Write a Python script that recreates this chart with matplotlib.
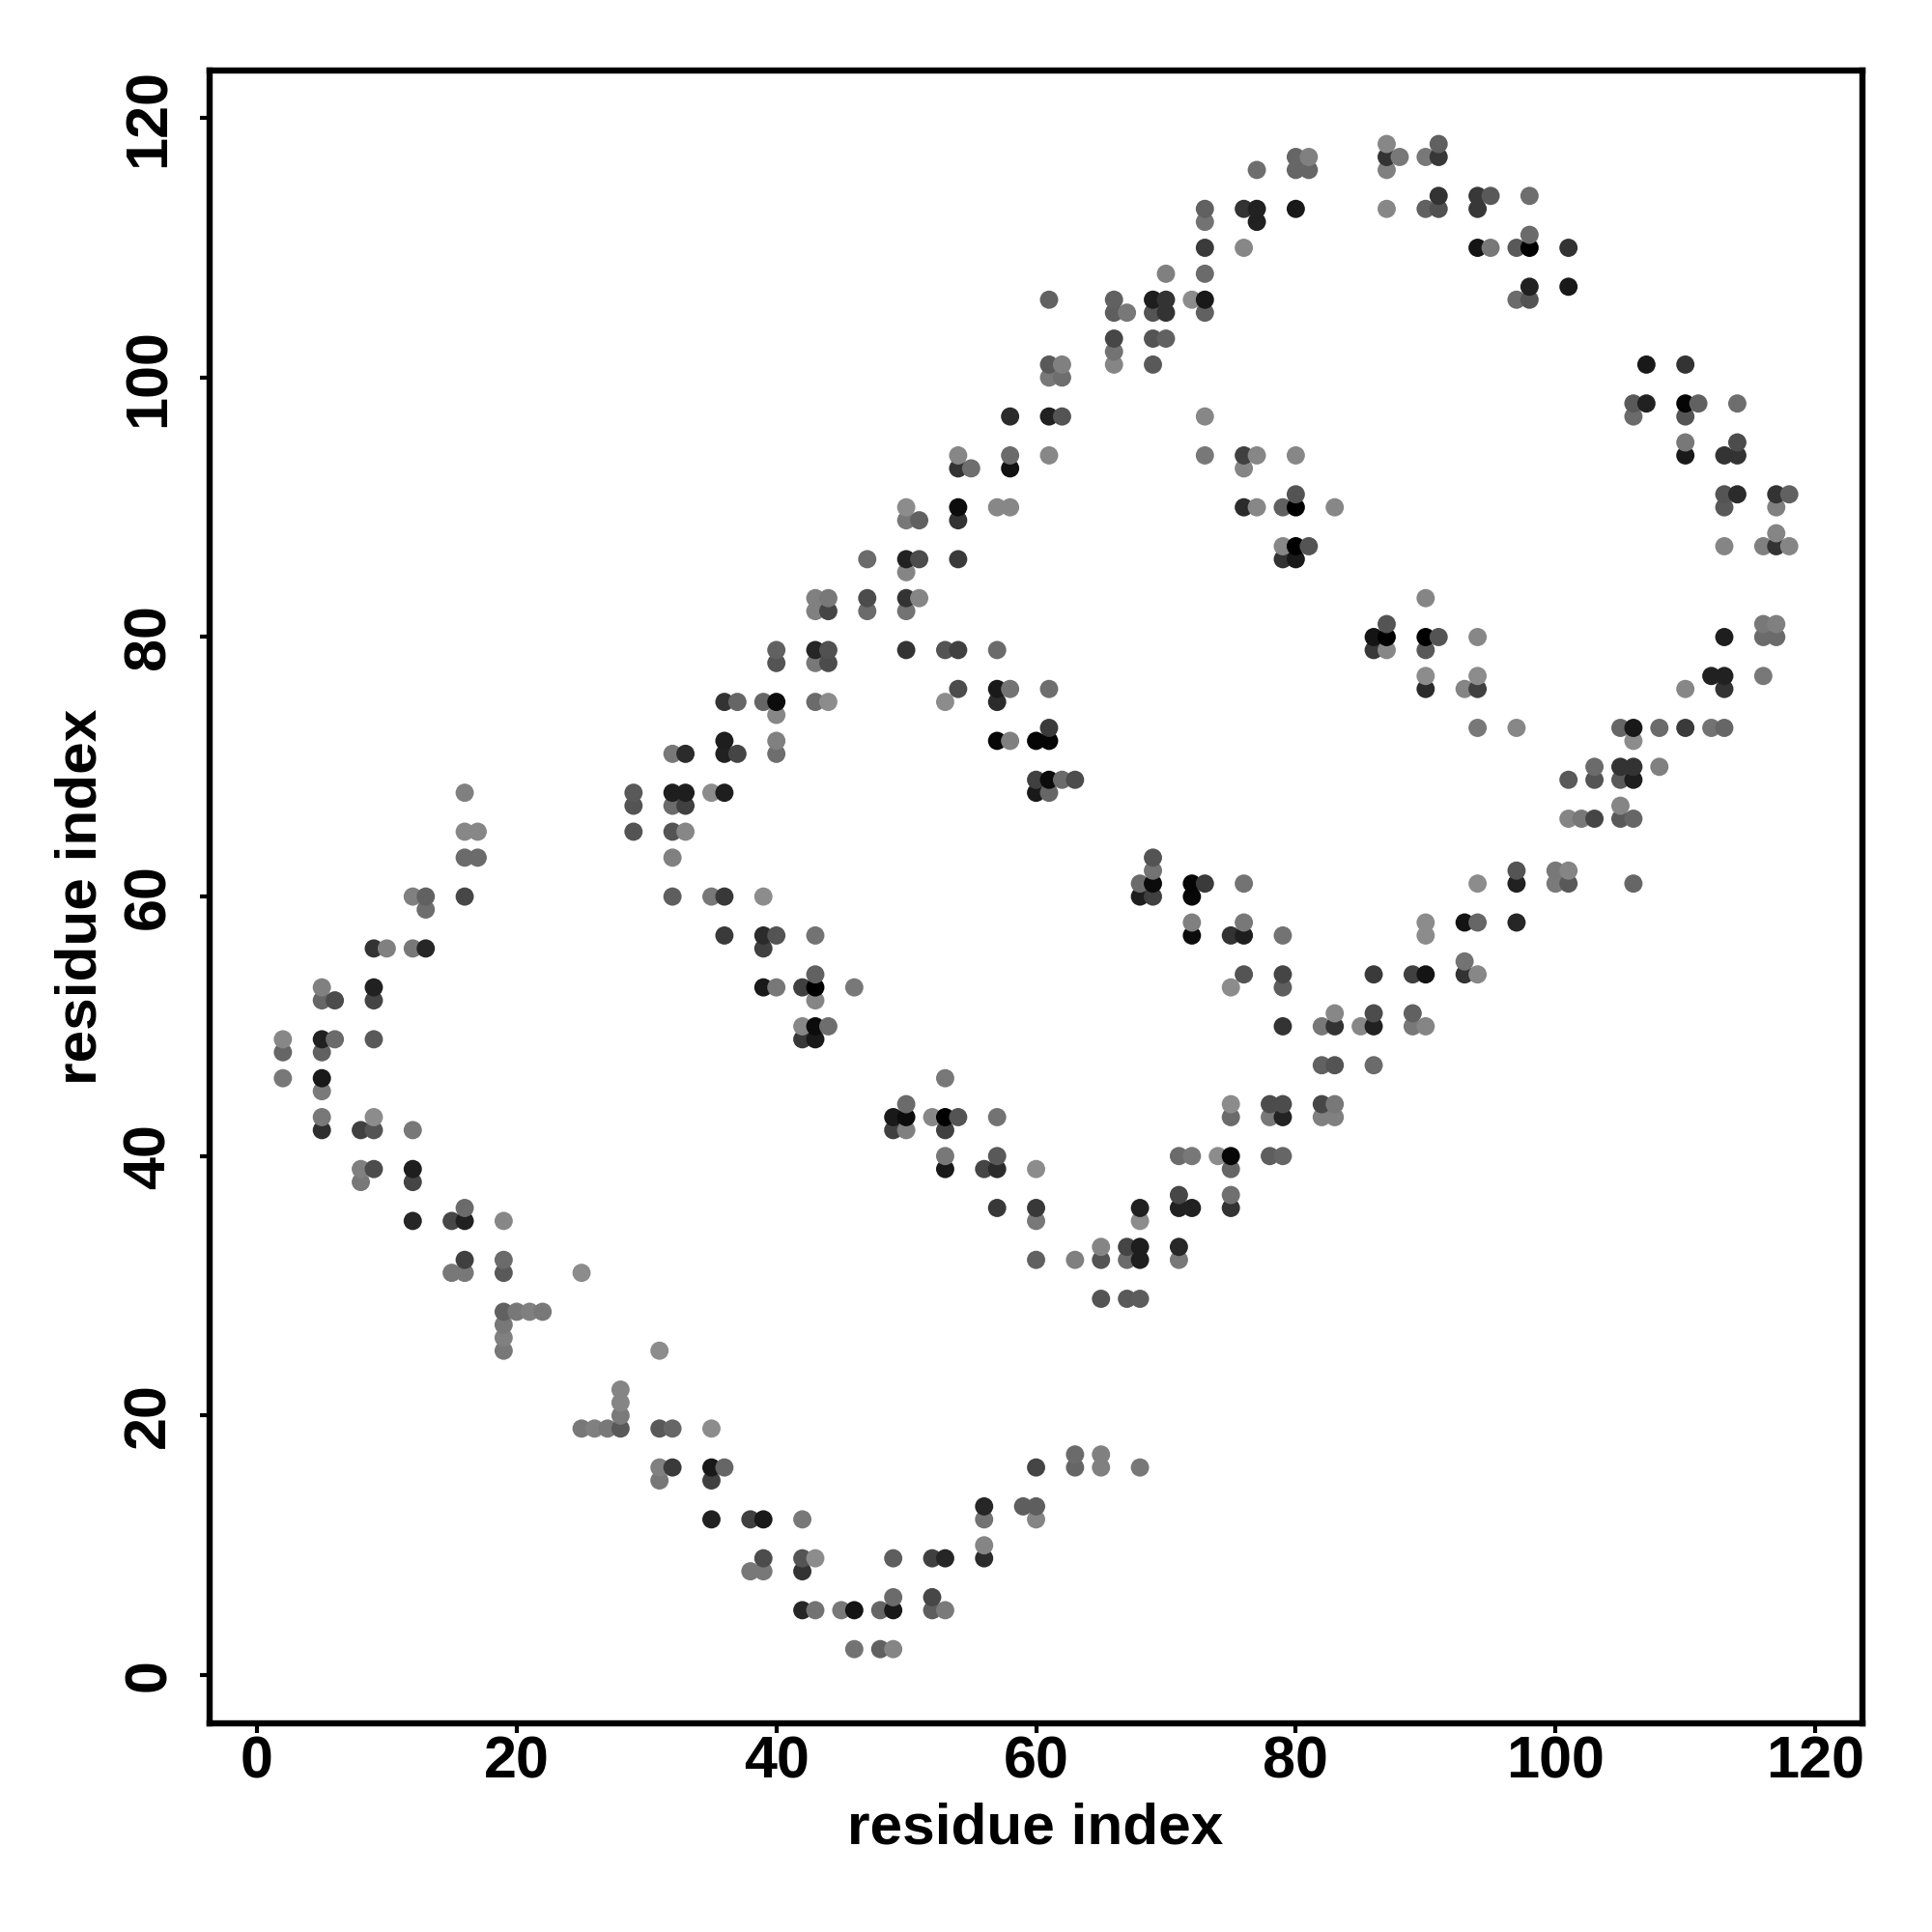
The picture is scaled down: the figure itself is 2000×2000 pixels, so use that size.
import numpy as np
import matplotlib
matplotlib.use('Agg')
import matplotlib.pyplot as plt

plt.rcParams['font.family'] = ['Liberation Sans', 'DejaVu Sans']
plt.rcParams['font.weight'] = 'bold'

# contacts, one row per y value
row_y = [118, 117, 116, 114, 113, 112, 111, 110, 108, 107,
         106, 105, 103, 102, 101, 100, 98, 97, 95, 94,
         93, 91, 90, 89, 88, 87, 86, 85, 83, 82,
         81, 80, 79, 78, 77, 76, 75, 74, 73, 72,
         71, 70, 69, 68, 67, 66, 65, 63, 62, 61,
         60, 59, 58, 57, 56, 55, 54, 53, 52, 51,
         50, 49, 48, 47, 46, 45, 44, 43, 42, 40,
         39, 38, 37, 36, 35, 33, 32, 31, 29, 28,
         27, 26, 25, 22, 21, 20, 19, 17, 16, 15,
         13, 12, 10, 9, 8, 6, 5, 2]

row_x = [
    [87, 91],
    [80, 81, 87, 88, 90, 91],
    [77, 80, 81, 87],
    [91, 94, 95, 98],
    [73, 76, 77, 80, 87, 90, 91, 94],
    [73, 77],
    [98],
    [73, 76, 94, 95, 97, 98, 101],
    [70, 73],
    [98, 101],
    [61, 66, 69, 70, 72, 73, 97, 98],
    [66, 67, 69, 70, 73],
    [66, 69, 70],
    [66],
    [61, 62, 66, 69, 107, 110],
    [61, 62],
    [106, 107, 110, 111, 114],
    [58, 61, 62, 73, 106, 110],
    [110, 114],
    [54, 58, 61, 73, 76, 77, 80, 110, 113, 114],
    [54, 55, 58, 76],
    [80, 113, 114, 117, 118],
    [50, 54, 57, 58, 76, 77, 79, 80, 83, 113, 117],
    [50, 51, 54],
    [117],
    [79, 80, 81, 113, 116, 117, 118],
    [47, 50, 51, 54, 79, 80],
    [50],
    [43, 44, 47, 50, 51, 90],
    [43, 44, 47, 50],
    [87, 116, 117],
    [86, 87, 90, 91, 94, 113, 116, 117],
    [40, 43, 44, 50, 53, 54, 57, 86, 87, 90],
    [40, 43, 44],
    [90, 94, 112, 113, 116],
    [54, 57, 58, 61, 90, 93, 94, 110, 113],
    [36, 37, 39, 40, 43, 44, 53, 57],
    [40],
    [61, 94, 97, 105, 106, 108, 110, 112, 113],
    [36, 40, 57, 58, 60, 61, 106],
    [32, 33, 36, 37, 40],
    [103, 105, 106, 108],
    [60, 61, 62, 63, 101, 103, 105, 106],
    [16, 29, 32, 33, 35, 36, 60, 61],
    [29, 32, 33, 105],
    [101, 102, 103, 105, 106],
    [16, 17, 29, 32, 33],
    [16, 17, 32, 69],
    [69, 97, 100, 101],
    [68, 69, 72, 73, 76, 94, 97, 100, 101, 106],
    [12, 13, 16, 32, 35, 36, 39, 68, 69, 72],
    [13],
    [72, 76, 90, 93, 94, 97],
    [36, 39, 40, 43, 72, 75, 76, 79, 90],
    [9, 10, 12, 13, 39],
    [93],
    [43, 76, 79, 86, 89, 90, 93, 94],
    [5, 9, 39, 40, 42, 43, 46, 75, 79],
    [5, 6, 9, 43],
    [83, 86, 89],
    [42, 43, 44, 79, 82, 83, 85, 86, 89, 90],
    [2, 5, 6, 9, 42, 43],
    [2, 5],
    [82, 83, 86],
    [2, 5, 53],
    [5],
    [50, 75, 78, 79, 82, 83],
    [5, 9, 49, 50, 52, 53, 54, 57, 75, 78, 79, 82, 83],
    [5, 8, 9, 12, 49, 50, 53],
    [53, 57, 71, 72, 74, 75, 78, 79],
    [8, 9, 12, 53, 56, 57, 60, 75],
    [8, 12],
    [71, 75],
    [16, 57, 60, 68, 71, 72, 75],
    [12, 15, 16, 19, 60, 68],
    [65, 67, 68, 71],
    [16, 19, 60, 63, 65, 67, 68, 71],
    [15, 16, 19, 25],
    [65, 67, 68],
    [19, 20, 21, 22],
    [19],
    [19],
    [19, 31],
    [28],
    [28],
    [28],
    [25, 26, 27, 28, 31, 32, 35],
    [63, 65],
    [31, 32, 35, 36, 60, 63, 65, 68],
    [31, 35],
    [56, 59, 60],
    [35, 38, 39, 42, 56, 60],
    [56],
    [39, 42, 43, 49, 52, 53, 56],
    [38, 39, 42],
    [49, 52],
    [42, 43, 45, 46, 48, 49, 52, 53],
    [46, 48, 49],
]

row_grey = [
    [.53, .38],
    [.4, .5, .2, .47, .47, .22],
    [.43, .4, .4, .5],
    [.2, .22, .35, .43],
    [.38, .2, .13, .1, .53, .38, .32, .22],
    [.45, .13],
    [.42],
    [.23, .53, .08, .47, .35, 0, .2],
    [.5, .42],
    [.13, .1],
    [.38, .38, .12, .2, .55, .1, .42, .33],
    [.37, .47, .33, .2, .38],
    [.28, .33, .38],
    [.45],
    [.35, .5, .52, .35, .1, .2],
    [.47, .43],
    [.35, .13, .02, .38, .43],
    [.17, .13, .33, .53, .42, .33],
    [.47, .3],
    [.53, .42, .53, .47, .25, .53, .53, .1, .2, .2],
    [.2, .43, .07, .52],
    [.33, .33, .17, .2, .38],
    [.55, .05, .53, .53, .17, .53, .38, 0, .53, .35, .5],
    [.47, .38, .2],
    [.52],
    [.53, 0, .33, .52, .5, .2, .52],
    [.42, .13, .3, .23, .2, .1],
    [.52],
    [.5, .47, .3, .2, .52, .52],
    [.5, .27, .42, .45],
    [.33, .47, .5],
    [.08, 0, 0, .33, .53, .12, .42, .42],
    [.38, .15, .32, .2, .33, .25, .42, .22, .53, .35],
    [.33, .47, .3],
    [.55, .55, .13, .13, .47],
    [.3, .1, .45, .43, .17, .52, .25, .53, .2],
    [.2, .4, .4, .05, .42, .55, .55, .17],
    [.53],
    [.23, .47, .53, .4, .1, .42, .23, .45, .4],
    [.12, .5, .03, .5, .02, .02, .55],
    [.47, .17, .13, .27, .43],
    [.42, .2, .2, .5],
    [.25, .05, .42, .3, .35, .33, .35, .12],
    [.5, .35, .12, .12, .55, .12, .1, .4],
    [.33, .42, .25, .52],
    [.52, .47, .27, .35, .4],
    [.53, .53, .33, .33, .53],
    [.42, .42, .5, .33],
    [.45, .33, .47, .52],
    [.42, .05, .02, .23, .45, .55, .13, .48, .35, .4],
    [.5, .38, .28, .37, .47, .22, .55, .12, .25, .03],
    [.43],
    [.5, .47, .55, .08, .4, .15],
    [.23, .17, .33, .45, .05, .2, .12, .45, .55],
    [.2, .5, .47, .15, .25],
    [.45],
    [.38, .33, .27, .23, .25, .08, .2, .53],
    [.5, .13, .1, .47, .25, 0, .47, .55, .37],
    [.4, .3, .27, .52],
    [.53, .3, .38],
    [.53, .05, .43, .2, .47, .2, .53, .13, .47, .52],
    [.53, .13, .42, .35, .22, .1],
    [.4, .38],
    [.38, .33, .42],
    [.47, .1, .47],
    [.48],
    [.42, .55, .3, .3, .28, .47],
    [.47, .55, .1, .05, .53, 0, .33, .45, .42, .47, .14, .5, .5],
    [.18, .25, .33, .47, .25, .5, .25],
    [.47, .35, .42, .47, .55, .03, .37, .4],
    [.5, .3, .12, .1, .27, .17, .55, .4],
    [.47, .27],
    [.28, .44],
    [.42, .22, .22, .13, .13, .13, .2],
    [.15, .28, .13, .53, .47, .55],
    [.52, .27, .12, .16],
    [.25, .42, .38, .5, .33, .42, .12, .47],
    [.47, .47, .35, .55],
    [.33, .35, .36],
    [.38, .47, .5, .47],
    [.47],
    [.5],
    [.47, .55],
    [.52],
    [.52],
    [.48],
    [.47, .5, .47, .35, .35, .4, .55],
    [.42, .5],
    [.5, .23, .1, .4, .27, .4, .5, .47],
    [.47, .25],
    [.15, .37, .37],
    [.13, .25, .1, .47, .45, .52],
    [.52],
    [.3, .33, .55, .37, .25, .15, .17],
    [.47, .47, .2],
    [.42, .28],
    [.15, .45, .47, .08, .4, .1, .37, .48],
    [.45, .38, .52],
]

tick_values = [0, 20, 40, 60, 80, 100, 120]
axis_label = 'residue index'

for x_row, grey_row in zip(row_x, row_grey):
    assert len(x_row) == len(grey_row), x_row

# flatten the rows, draw in x then y order so upper and right dots sit on top
xs = np.concatenate([np.array(r, dtype=float) for r in row_x])
ys = np.concatenate([np.full(len(r), v, dtype=float) for r, v in zip(row_x, row_y)])
greys = np.concatenate([np.array(r, dtype=float) for r in row_grey])
order = np.lexsort((ys, xs))

fig = plt.figure(figsize=(20, 20), dpi=100)
ax = fig.add_axes([216.5 / 2000, (2000 - 1784) / 2000, 1711 / 2000, 1711.5 / 2000])

ax.scatter(xs[order], ys[order], c=greys[order], cmap='gray', vmin=0, vmax=1,
           s=185, linewidths=0, clip_on=False, zorder=3)

ax.set_xlim(-3.68, 123.6)
ax.set_ylim(-3.72, 123.7)
ax.set_xticks(tick_values)
ax.set_yticks(tick_values)
ax.tick_params(axis='both', length=7.2, width=3, labelsize=44)
ax.tick_params(axis='x', pad=1.6)
ax.tick_params(axis='y', pad=16.4)
plt.setp(ax.get_yticklabels(), rotation=90, va='center')

ax.set_xlabel(axis_label, fontsize=43.5, fontweight='bold', labelpad=9)
ax.set_ylabel(axis_label, fontsize=43.5, fontweight='bold', labelpad=11)

for spine in ax.spines.values():
    spine.set_linewidth(4.6)

fig.savefig('out.png', dpi=100, facecolor='white')
